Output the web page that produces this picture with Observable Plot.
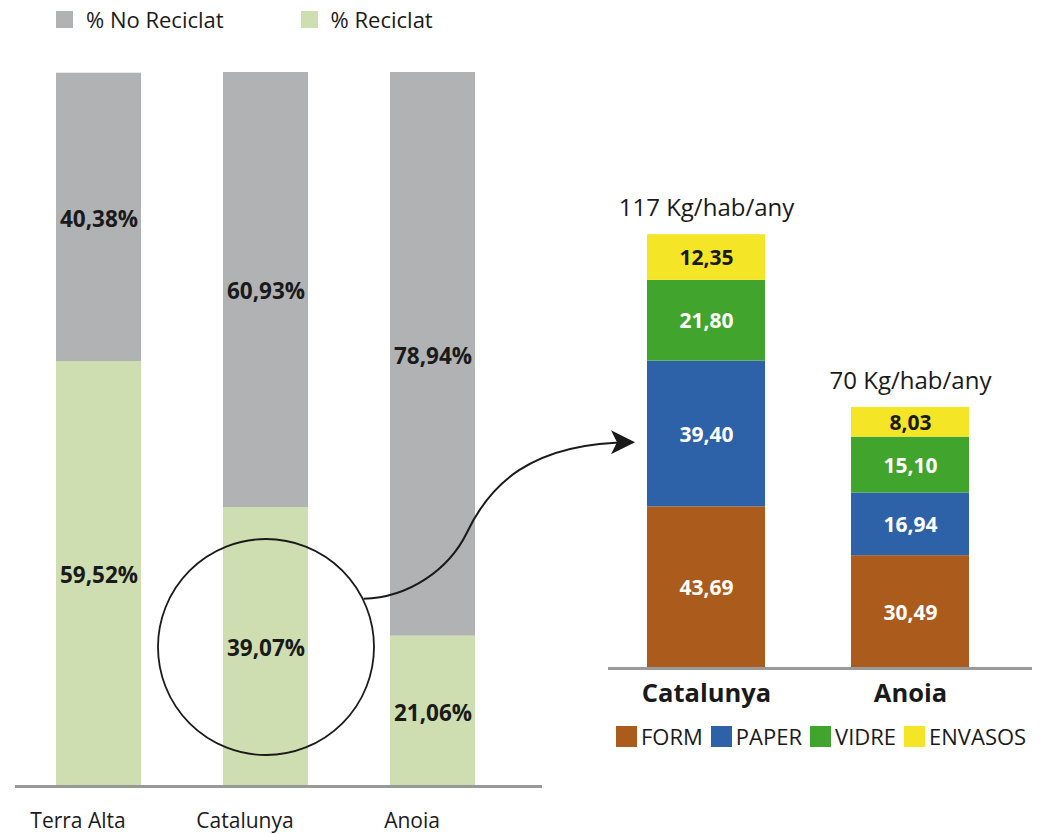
<!DOCTYPE html>
<html>
<head>
<meta charset="utf-8">
<script src="https://cdn.jsdelivr.net/npm/d3@7"></script>
<script src="https://cdn.jsdelivr.net/npm/@observablehq/plot@0.6"></script>
<style>
  html, body { margin: 0; padding: 0; background: white; }
  #wrap { position: relative; width: 1044px; height: 834px; font-family: "Open Sans", sans-serif; color: #1a1a1a; overflow: hidden; }
  #left, #right, #overlay { position: absolute; top: 0; }
  #left { left: 0; }
  #right { left: 560px; }
  #overlay { left: 0; pointer-events: none; }
  .legend { position: absolute; display: flex; align-items: center; }
  .legend .item { display: flex; align-items: center; }
  .legend .sw { display: inline-block; }
</style>
</head>
<body>
<div id="wrap">
  <div id="left"></div>
  <div id="right"></div>
  <svg id="overlay" width="1044" height="834"></svg>
  <div id="legTop" class="legend" style="left:56px; top:4px; height:30px; font-size:22px;"></div>
  <div id="legRight" class="legend" style="left:616px; top:722px; height:28px; font-size:22px;"></div>
</div>
<script>
// ---- Data ----
const leftCats = ["Terra Alta", "Catalunya", "Anoia"];
const recSeries = ["% Reciclat", "% No Reciclat"];
const reciclat = [59.52, 39.07, 21.06];
const noReciclat = [40.38, 60.93, 78.94];

const rightCats = ["Catalunya", "Anoia"];
const fractions = ["FORM", "PAPER", "VIDRE", "ENVASOS"];
const form = [43.69, 30.49];
const paper = [39.40, 16.94];
const vidre = [21.80, 15.10];
const envasos = [12.35, 8.03];
const totalLabels = ["117 Kg/hab/any", "70 Kg/hab/any"];

const recColors = ["#cfdeb0", "#b1b2b4"];
const fracColors = ["#ab5b1b", "#2e62a8", "#41a52d", "#f4e526"];

const fmt = v => d3.format(".2f")(v).replace(".", ",");

// ---- Tables ----
const leftData = [];
leftCats.forEach((c, i) => {
  leftData.push({cat: c, serie: recSeries[0], value: reciclat[i]});
  leftData.push({cat: c, serie: recSeries[1], value: noReciclat[i]});
});
const fracValues = [form, paper, vidre, envasos];
const rightData = [];
rightCats.forEach((c, i) => {
  fractions.forEach((f, j) => rightData.push({cat: c, frac: f, value: fracValues[j][i]}));
});
const totals = rightCats.map((c, i) => ({
  cat: c, total: d3.sum(fracValues, arr => arr[i]), label: totalLabels[i]
}));

const font = {fontFamily: "'Open Sans', sans-serif", background: "transparent"};

// ---- Left chart ----
const leftPlot = Plot.plot({
  width: 560, height: 834,
  marginTop: 72, marginBottom: 48, marginLeft: 15, marginRight: 18,
  style: font,
  x: {domain: leftCats, range: [15, 516], paddingInner: 0.491, paddingOuter: 0.2455, axis: null},
  y: {domain: [0, 100], axis: null},
  color: {domain: recSeries, range: recColors},
  marks: [
    Plot.barY(leftData, {x: "cat", y: "value", fill: "serie", z: "serie", order: recSeries}),
    Plot.text(leftData, Plot.stackY({x: "cat", y: "value", z: "serie", order: recSeries,
      text: d => fmt(d.value) + "%", fontSize: 22.5, fontWeight: "bold", fill: "#1a1a1a", dy: 2})),
    Plot.ruleY([0], {stroke: "#999", strokeWidth: 3}),
    Plot.text(leftCats, {x: d => d, y: d => 0, dx: -21, dy: 35, fontSize: 21, fill: "#1a1a1a"}),
    Plot.dot(leftData.filter(d => d.cat === "Catalunya" && d.serie === recSeries[0]),
      {x: "cat", y: d => d.value / 2, r: 108, stroke: "#1a1a1a", strokeWidth: 1.8, fill: "none"})
  ]
});
document.getElementById("left").appendChild(leftPlot);

// ---- Right chart ----
const rightPlot = Plot.plot({
  width: 484, height: 834,
  marginTop: 200, marginBottom: 166, marginLeft: 48, marginRight: 12,
  style: font,
  x: {domain: rightCats, range: [44, 452], paddingInner: 0.4216, paddingOuter: 0.2108, axis: null},
  y: {domain: [0, 120], range: [668, 668 - 120 * 3.70], axis: null},
  color: {domain: fractions, range: fracColors},
  marks: [
    Plot.barY(rightData, {x: "cat", y: "value", fill: "frac", z: "frac", order: fractions}),
    Plot.text(rightData, Plot.stackY({x: "cat", y: "value", z: "frac", order: fractions,
      text: d => d.frac === "ENVASOS" ? fmt(d.value) : "", fontSize: 21, fontWeight: "bold", fill: "#1a1a1a", dy: 1})),
    Plot.text(rightData, Plot.stackY({x: "cat", y: "value", z: "frac", order: fractions,
      text: d => d.frac === "ENVASOS" ? "" : fmt(d.value), fontSize: 21, fontWeight: "bold", fill: "white", dy: 1})),
    Plot.ruleY([0], {stroke: "#999", strokeWidth: 3}),
    Plot.text(totals, {x: "cat", y: "total", text: "label", dy: -26, fontSize: 24, fill: "#1a1a1a"}),
    Plot.text(rightCats, {x: d => d, y: d => 0, dy: 25, fontSize: 25.5, fontWeight: "bold", fill: "#1a1a1a"})
  ]
});
document.getElementById("right").appendChild(rightPlot);

// ---- Legends ----
const legTop = d3.select("#legTop");
recSeries.slice().reverse().forEach((s, i) => {
  const col = recColors[recSeries.indexOf(s)];
  const it = legTop.append("div").attr("class", "item").style("margin-right", i === 0 ? "77px" : "0");
  it.append("span").attr("class", "sw").style("width", "17px").style("height", "17px")
    .style("background", col).style("margin-right", "13px");
  it.append("span").text(s);
});
const legRight = d3.select("#legRight");
fractions.forEach((f, i) => {
  const it = legRight.append("div").attr("class", "item").style("margin-right", "8px");
  it.append("span").attr("class", "sw").style("width", "21px").style("height", "21px")
    .style("background", fracColors[i]).style("margin-right", "4px");
  it.append("span").text(f);
});

// ---- Annotation arrow (positions derived from the scales) ----
const lx = leftPlot.scale("x"), ly = leftPlot.scale("y");
const rx = rightPlot.scale("x"), ry = rightPlot.scale("y");
const cx = lx.apply("Catalunya") + lx.bandwidth / 2;
const cy = ly.apply(reciclat[1] / 2);
const ang = -26 * Math.PI / 180, R = 109;
const S = {x: cx + R * Math.cos(ang), y: cy + R * Math.sin(ang)};
const E = {x: 560 + rx.apply("Catalunya") - 14, y: ry.apply(form[0] + paper[0] * 0.44)};
const dx = E.x - S.x, dy = E.y - S.y;
const P = (a, b) => `${S.x + a * dx},${S.y + b * dy}`;
const ov = d3.select("#overlay");
ov.append("defs").append("marker")
  .attr("id", "ah").attr("viewBox", "0 0 24 24").attr("refX", 22).attr("refY", 12)
  .attr("markerWidth", 24).attr("markerHeight", 24).attr("markerUnits", "userSpaceOnUse")
  .attr("orient", "auto")
  .append("path").attr("d", "M0,0 L24,12 L0,24 L6,12 Z").attr("fill", "#1a1a1a");
ov.append("path")
  .attr("d", `M${S.x},${S.y} C${P(0.168, 0.006)} ${P(0.317, 0.186)} ${P(0.384, 0.423)} C${P(0.466, 0.72)} ${P(0.616, 1.0)} ${E.x},${E.y}`)
  .attr("fill", "none").attr("stroke", "#1a1a1a").attr("stroke-width", 2)
  .attr("marker-end", "url(#ah)");
</script>
</body>
</html>
